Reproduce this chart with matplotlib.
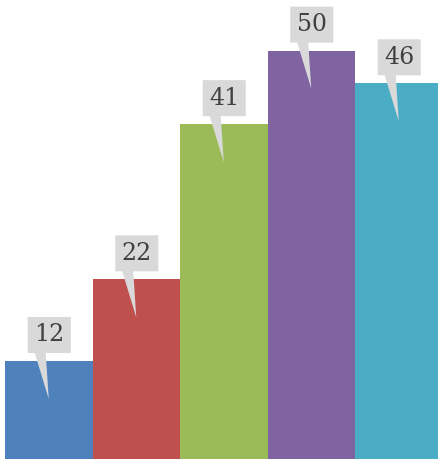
import matplotlib
matplotlib.use("Agg")
from matplotlib import pyplot as plt
from matplotlib.patches import Polygon
from matplotlib.transforms import ScaledTranslation

categories = ["A", "B", "C", "D", "E"]
values = [12, 22, 41, 50, 46]
colors = ["#4f81bd", "#c0504d", "#9bbb59", "#8064a2", "#4bacc6"]

DPI = 100
fig = plt.figure(figsize=(4.39, 4.59), dpi=DPI)
ax = fig.add_axes([5 / 439, 0, 434 / 439, 1])

x = range(len(values))
ax.bar(x, values, width=1.0, color=colors, linewidth=0)
ax.set_xlim(-0.5, 4.46)
ax.set_ylim(0, 56.2)
ax.axis("off")

# callout shape in pixels, relative to the top centre of each bar
shape = [(-21, 8), (-14, 8), (0, -38), (-3, 8), (22, 8), (22, 44), (-21, 44)]
shape_in = [(px / DPI, py / DPI) for px, py in shape]

for xi, v in zip(x, values):
    trans = fig.dpi_scale_trans + ScaledTranslation(xi, v, ax.transData)
    ax.add_patch(Polygon(shape_in, closed=True, transform=trans,
                         facecolor="#d9d9d9", edgecolor="none", clip_on=False))
    ax.text(0.5 / DPI, 26 / DPI, str(v), transform=trans, ha="center", va="center",
            fontsize=17, family="DejaVu Serif", color="#404040")

fig.savefig("out.png", dpi=DPI)
